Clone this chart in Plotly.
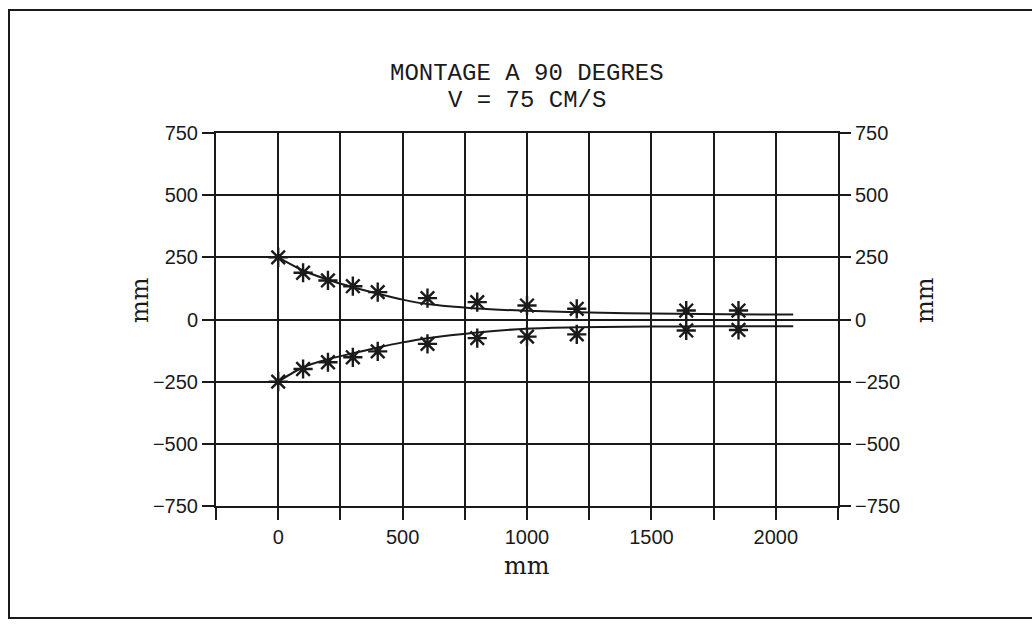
import plotly.graph_objects as go

# ---- data ----
meas_x = [0, 100, 200, 300, 400, 600, 800, 1000, 1200, 1640, 1850]
meas_upper = [250, 188, 157, 134, 110, 86, 70, 56, 43, 36, 36]
meas_lower = [-250, -199, -172, -152, -128, -98, -75, -69, -60, -44, -42]

curve_x = [0, 100, 200, 300, 400, 500, 600, 800, 1000, 1200, 1400, 1600, 1800, 2070]
curve_upper = [250, 197, 160, 130, 104, 80, 62, 44, 35, 29, 25, 23, 21, 20]
curve_lower = [-250, -192, -160, -136, -113, -92, -75, -52, -37, -31, -29, -28, -27, -27]

x_ticks = [-250, 0, 250, 500, 750, 1000, 1250, 1500, 1750, 2000, 2250]
x_labels = ["", "0", "", "500", "", "1000", "", "1500", "", "2000", ""]
y_ticks = [-750, -500, -250, 0, 250, 500, 750]
y_labels = ["\u2212750", "\u2212500", "\u2212250", "0", "250", "500", "750"]

title_lines = ["MONTAGE A 90 DEGRES", "V = 75 CM/S"]
axis_title = "mm"

# ---- layout geometry (pixels) ----
W, H = 1032, 627
L, R, T, B = 216, 838, 133, 506
pw, ph = R - L, B - T


def px(xp):
    return (xp - L) / pw


def py(yp):
    return (B - yp) / ph


INK = "#1a1a1a"
tick_font = dict(family="Liberation Sans, Arial, sans-serif", size=20, color=INK)

fig = go.Figure()

line_style = dict(color=INK, width=2)
marker_style = dict(symbol="asterisk-open", size=16, line=dict(color=INK, width=2.4), color=INK)

fig.add_trace(go.Scatter(x=curve_x, y=curve_upper, mode="lines", line=dict(**line_style, shape="spline", smoothing=0.8),
                         showlegend=False, hoverinfo="skip"))
fig.add_trace(go.Scatter(x=curve_x, y=curve_lower, mode="lines", line=dict(**line_style, shape="spline", smoothing=0.8),
                         showlegend=False, hoverinfo="skip"))
fig.add_trace(go.Scatter(x=meas_x, y=meas_upper, mode="markers", marker=marker_style, showlegend=False))
fig.add_trace(go.Scatter(x=meas_x, y=meas_lower, mode="markers", marker=marker_style, showlegend=False))
# invisible trace so that the right-hand axis is drawn
fig.add_trace(go.Scatter(x=[meas_x[0]], y=[meas_upper[0]], yaxis="y2", mode="markers",
                         marker=dict(opacity=0), showlegend=False, hoverinfo="skip"))

fig.update_layout(
    width=W, height=H,
    margin=dict(l=L, r=W - R, t=T, b=H - B, pad=0),
    paper_bgcolor="white", plot_bgcolor="white",
    xaxis=dict(
        range=[-250, 2250], tickmode="array", tickvals=x_ticks, ticktext=x_labels,
        ticks="outside", ticklen=12, tickwidth=2, tickcolor=INK,
        showgrid=True, gridcolor=INK, gridwidth=2,
        showline=True, linecolor=INK, linewidth=2, mirror=True,
        zeroline=False, tickfont=tick_font,
    ),
    yaxis=dict(
        range=[-750, 750], tickmode="array", tickvals=y_ticks, ticktext=y_labels,
        ticks="outside", ticklen=12, tickwidth=2, tickcolor=INK,
        showgrid=True, gridcolor=INK, gridwidth=2,
        showline=True, linecolor=INK, linewidth=2, mirror=True,
        zeroline=False, tickfont=tick_font,
    ),
    yaxis2=dict(
        range=[-750, 750], overlaying="y", side="right", tickmode="array",
        tickvals=y_ticks, ticktext=y_labels,
        ticks="outside", ticklen=12, tickwidth=2, tickcolor=INK,
        showgrid=False, showline=False, zeroline=False, tickfont=tick_font,
    ),
)

# titles
mono = dict(family="Liberation Mono, Courier New, monospace", size=24, color=INK)
fig.add_annotation(text=title_lines[0], xref="paper", yref="paper", x=0.5, y=py(74),
                   xanchor="center", yanchor="middle", showarrow=False, font=mono)
fig.add_annotation(text=title_lines[1], xref="paper", yref="paper", x=0.5, y=py(101),
                   xanchor="center", yanchor="middle", showarrow=False, font=mono)
serif = dict(family="DejaVu Serif, Liberation Serif, serif", size=24, color=INK)
fig.add_annotation(text=axis_title, xref="paper", yref="paper", x=0.5, y=py(566),
                   xanchor="center", yanchor="middle", showarrow=False, font=serif)
fig.add_annotation(text=axis_title, xref="paper", yref="paper", x=px(140), y=py(300),
                   xanchor="center", yanchor="middle", showarrow=False, textangle=-90, font=serif)
fig.add_annotation(text=axis_title, xref="paper", yref="paper", x=px(925), y=py(300),
                   xanchor="center", yanchor="middle", showarrow=False, textangle=-90, font=serif)

# outer frame of the scanned figure
fig.add_shape(type="rect", xref="paper", yref="paper",
              x0=px(9), x1=px(1045), y0=py(618), y1=py(10),
              line=dict(color=INK, width=2), layer="below")

fig.write_html("out.html")
